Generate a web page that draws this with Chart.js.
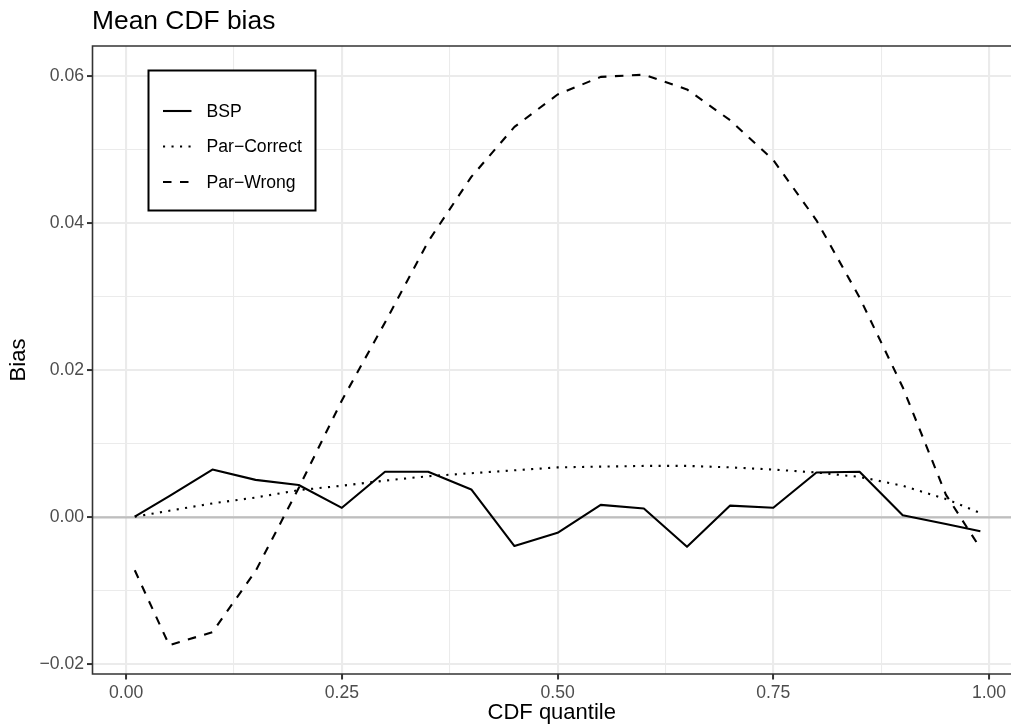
<!DOCTYPE html>
<html><head><meta charset="utf-8">
<script src="https://cdn.jsdelivr.net/npm/chart.js@4/dist/chart.umd.min.js"></script>
<style>html,body{margin:0;padding:0;background:#fff;overflow:hidden}#wrap{width:1011px;height:726px;position:relative}</style>
</head><body><div id="wrap"><canvas id="c" width="1011" height="726"></canvas></div>
<script>
const QUANTILES   = [0.01, 0.05, 0.10, 0.15, 0.20, 0.25, 0.30, 0.35, 0.40, 0.45, 0.50, 0.55, 0.60, 0.65, 0.70, 0.75, 0.80, 0.85, 0.90, 0.95, 0.99];
const BSP         = [0.0001, 0.0029, 0.0065, 0.0051, 0.0044, 0.0013, 0.0062, 0.0062, 0.0038, -0.0039, -0.0021, 0.0017, 0.0012, -0.0040, 0.0016, 0.0013, 0.0061, 0.0062, 0.0003, -0.0009, -0.0019];
const PAR_CORRECT = [0.0001, 0.0009, 0.0019, 0.0027, 0.0037, 0.0043, 0.0050, 0.0056, 0.0060, 0.0064, 0.0068, 0.0069, 0.0070, 0.0070, 0.0068, 0.0065, 0.0061, 0.0055, 0.0043, 0.0025, 0.0006];
const PAR_WRONG   = [-0.0072, -0.0174, -0.0156, -0.0073, 0.0040, 0.0159, 0.0265, 0.0375, 0.0463, 0.0531, 0.0575, 0.0599, 0.0602, 0.0582, 0.0540, 0.0486, 0.0404, 0.0299, 0.0177, 0.0031, -0.0042];
const SERIES_NAMES = ['BSP', 'Par\u2212Correct', 'Par\u2212Wrong'];
const X_MAJOR = [0, 0.25, 0.5, 0.75, 1];
const X_MAJOR_LABELS = ['0.00', '0.25', '0.50', '0.75', '1.00'];
const X_MINOR = [0.125, 0.375, 0.625, 0.875];
const Y_MAJOR = [-0.02, 0, 0.02, 0.04, 0.06];
const Y_MAJOR_LABELS = ['\u22120.02', '0.00', '0.02', '0.04', '0.06'];
const Y_MINOR = [-0.01, 0.01, 0.03, 0.05];
const HLINE_Y = 0;
const TITLE = 'Mean CDF bias';
const X_TITLE = 'CDF quantile';
const Y_TITLE = 'Bias';

const FONT = '"Liberation Sans", Arial, Helvetica, sans-serif';
const near = (a, b) => Math.abs(a - b) < 1e-9;
const idxIn = (arr, v) => arr.findIndex(a => near(a, v));

function toPts(ys) { return QUANTILES.map((q, i) => ({x: q, y: ys[i]})); }

const LW = 2.1;
const datasets = [
  {label: SERIES_NAMES[0], data: toPts(BSP), borderDash: []},
  {label: SERIES_NAMES[1], data: toPts(PAR_CORRECT), borderDash: [2.1, 6.4]},
  {label: SERIES_NAMES[2], data: toPts(PAR_WRONG), borderDash: [8.5, 8.5]}
].map(d => Object.assign(d, {
  borderColor: '#000000', borderWidth: LW, pointRadius: 0, tension: 0,
  fill: false, borderCapStyle: 'butt', borderJoinStyle: 'round'
}));

const hlinePlugin = {
  id: 'hline',
  beforeDatasetsDraw(chart) {
    const {ctx, chartArea: a, scales: {y}} = chart;
    const py = y.getPixelForValue(HLINE_Y);
    ctx.save();
    ctx.strokeStyle = '#BEBEBE';
    ctx.lineWidth = 2.1;
    ctx.beginPath(); ctx.moveTo(a.left, py); ctx.lineTo(a.right, py); ctx.stroke();
    ctx.restore();
  }
};

const framePlugin = {
  id: 'frame',
  afterDatasetsDraw(chart) {
    const {ctx, chartArea: a} = chart;
    ctx.save();
    ctx.strokeStyle = '#333333';
    ctx.lineWidth = 1.6;
    ctx.beginPath();
    ctx.moveTo(a.right + 2, a.top); ctx.lineTo(a.left, a.top);
    ctx.lineTo(a.left, a.bottom); ctx.lineTo(a.right + 2, a.bottom);
    ctx.stroke();
    ctx.restore();
  },
  afterDraw(chart) {
    const ctx = chart.ctx;
    ctx.save();
    // title
    ctx.fillStyle = '#000000';
    ctx.font = '26.4px ' + FONT;
    ctx.textBaseline = 'alphabetic';
    ctx.textAlign = 'left';
    ctx.fillText(TITLE, 92, 29);
    // legend
    const bx = 148.5, by = 70.5, bw = 167, bh = 140;
    ctx.fillStyle = '#ffffff';
    ctx.fillRect(bx, by, bw, bh);
    ctx.strokeStyle = '#000000';
    ctx.lineWidth = 2;
    ctx.strokeRect(bx, by, bw, bh);
    const rows = [111, 146.5, 182];
    chart.data.datasets.forEach((ds, i) => {
      const yy = rows[i];
      ctx.save();
      ctx.strokeStyle = ds.borderColor;
      ctx.lineWidth = ds.borderWidth;
      ctx.lineCap = 'butt';
      ctx.setLineDash(ds.borderDash || []);
      ctx.beginPath(); ctx.moveTo(163, yy); ctx.lineTo(191.5, yy); ctx.stroke();
      ctx.restore();
      ctx.fillStyle = '#000000';
      ctx.font = '17.6px ' + FONT;
      ctx.textBaseline = 'middle';
      ctx.fillText(ds.label, 206.5, yy + 1);
    });
    ctx.restore();
  }
};

function gridOpts(majors) {
  return {
    color: '#EBEBEB',
    lineWidth: c => (c.tick && idxIn(majors, c.tick.value) >= 0) ? 2.1 : 1.07,
    tickColor: c => (c.tick && idxIn(majors, c.tick.value) >= 0) ? '#333333' : 'rgba(0,0,0,0)',
    tickLength: 5.5,
    tickWidth: 2,
    drawOnChartArea: true,
    drawTicks: true
  };
}

new Chart(document.getElementById('c'), {
  type: 'line',
  data: {datasets},
  options: {
    responsive: false,
    devicePixelRatio: 1,
    animation: false,
    layout: {padding: {top: 46, right: 0, bottom: 0, left: 0}},
    plugins: {legend: {display: false}, title: {display: false}, tooltip: {enabled: false}},
    scales: {
      x: {
        type: 'linear', min: -0.039, max: 1.0255,
        afterBuildTicks: s => { s.ticks = X_MAJOR.concat(X_MINOR).sort((a, b) => a - b).map(v => ({value: v})); },
        afterFit: s => { s.height = 52; },
        border: {display: false},
        grid: gridOpts(X_MAJOR),
        ticks: {
          autoSkip: false, maxRotation: 0, padding: 3, color: '#4D4D4D',
          font: {family: FONT, size: 17.6},
          callback: v => { const i = idxIn(X_MAJOR, v); return i >= 0 ? X_MAJOR_LABELS[i] : ''; }
        },
        title: {display: true, text: X_TITLE, color: '#000000', font: {family: FONT, size: 22}, padding: {top: 0, bottom: 0}}
      },
      y: {
        type: 'linear', min: -0.0213, max: 0.0641,
        afterBuildTicks: s => { s.ticks = Y_MAJOR.concat(Y_MINOR).sort((a, b) => a - b).map(v => ({value: v})); },
        afterFit: s => { s.width = 92.5; },
        border: {display: false},
        grid: gridOpts(Y_MAJOR),
        ticks: {
          autoSkip: false, padding: 3, color: '#4D4D4D',
          font: {family: FONT, size: 17.6},
          callback: v => { const i = idxIn(Y_MAJOR, v); return i >= 0 ? Y_MAJOR_LABELS[i] : ''; }
        },
        title: {display: true, text: Y_TITLE, color: '#000000', font: {family: FONT, size: 22}, padding: {top: 6, bottom: 0}}
      }
    }
  },
  plugins: [hlinePlugin, framePlugin]
});
</script>
</body></html>
